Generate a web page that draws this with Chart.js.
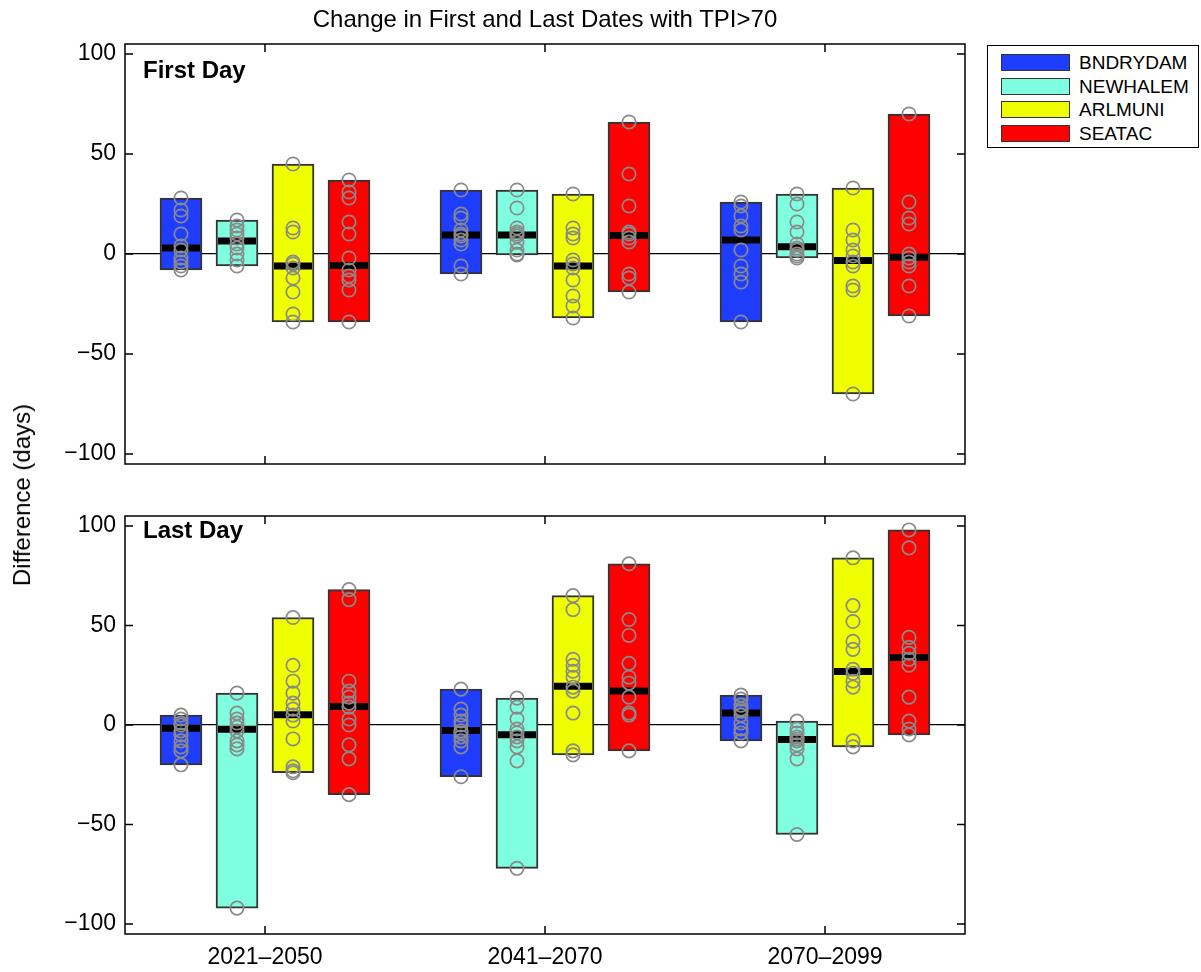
<!DOCTYPE html>
<html><head><meta charset="utf-8">
<script src="https://cdn.jsdelivr.net/npm/chart.js@4.4.1/dist/chart.umd.min.js"></script>
<style>
html,body{margin:0;padding:0;background:#fff;}
body{width:1201px;height:972px;position:relative;overflow:hidden;font-family:"Liberation Sans",Arial,Helvetica,sans-serif;color:#000;}
canvas{position:absolute;left:0;}
#c1{top:0;} #c2{top:490px;}
.t{position:absolute;white-space:nowrap;line-height:24px;}
#title{left:125px;width:840px;text-align:center;top:7px;font-size:24px;}
#ylab{left:22px;top:495px;font-size:24px;transform:translate(-50%,-50%) rotate(-90deg);}
.panel{left:143px;font-size:24px;font-weight:bold;}
#legend{position:absolute;left:987px;top:45px;width:210px;height:101px;border:1.5px solid #000;background:#fff;}
.row{position:absolute;left:13px;height:18px;}
.sw{position:absolute;left:0;top:0;width:67px;height:15px;border:1.5px solid #333;}
.lt{position:absolute;left:78px;top:-2px;font-size:19px;line-height:22px;white-space:nowrap;}
</style></head><body>
<canvas id="c1" width="1201" height="490"></canvas>
<canvas id="c2" width="1201" height="482"></canvas>
<div id="title" class="t">Change in First and Last Dates with TPI&gt;70</div>
<div id="ylab" class="t">Difference (days)</div>
<div class="t panel" style="top:58px">First Day</div>
<div class="t panel" style="top:518px">Last Day</div>
<div id="legend"></div>
<script>
// ---------------- data ----------------
const periods = ['2021\u20132050', '2041\u20132070', '2070\u20132099'];
const stations = ['BNDRYDAM', 'NEWHALEM', 'ARLMUNI', 'SEATAC'];
const yTickValues = [-100, -50, 0, 50, 100];

// First Day: individual model changes (days), one list per period
const firstBNDRYDAM = [[28, 22, 19, 10, 4, 2, -2, -4, -6, -8], [32, 20, 18, 12, 10, 9, 7, 5, -6, -10], [26, 24, 19, 14, 12, 2, -6, -10, -14, -34]];
const firstNEWHALEM = [[17, 14, 12, 10, 8, 5, 3, 0, -3, -6], [32, 23, 13, 11, 10, 9, 6, 2, 0, -0.5], [30, 25, 16, 11, 5, 3, 2, 0, -1, -2]];
const firstARLMUNI = [[45, 13, 11, -4, -5, -7, -12, -19, -30, -34], [30, 13, 10, 8, -3, -5, -7, -13, -21, -26, -32], [33, 12, 7, 2, -1, -4, -6, -16, -18, -70]];
const firstSEATAC = [[37, 31, 28, 16, 10, -2, -8, -11, -13, -18, -34], [66, 40, 24, 11, 10, 8, 6, -10, -12, -19], [70, 26, 18, 15, 0, -2, -4, -6, -16, -31]];
const firstMedianBNDRYDAM = [3, 9.5, 7];
const firstMedianNEWHALEM = [6.5, 9.5, 3.6];
const firstMedianARLMUNI = [-6, -6, -3.2];
const firstMedianSEATAC = [-5.7, 9.2, -1.6];

// Last Day
const lastBNDRYDAM = [[5, 3, 1, 0, -3, -5, -8, -11, -13, -20], [18, 8, 5, 2, 0, -3, -4, -6, -8, -11, -26], [15, 13, 10, 8, 7, 5, 1, -2, -4, -8]];
const lastNEWHALEM = [[16, 6, 3, 1, -1, -3, -8, -10, -12, -92], [13.5, 9, 3, -2, -4, -6, -8, -11, -18, -72], [2, -2, -4, -6, -7, -8, -10, -12, -17, -55]];
const lastARLMUNI = [[54, 30, 22, 16, 11, 8, 5, 2, -7, -21, -23, -24], [65, 58, 33, 30, 27, 24, 19, 17, 6, -13, -15], [84, 60, 52, 42, 38, 28, 26, 22, 19, -8, -11]];
const lastSEATAC = [[68, 63, 22, 17, 14, 11, 9, 3, 0, -10, -17, -35], [81, 53, 45, 31, 24, 21, 14, 6, 5, -13], [98, 89, 44, 39, 36, 33, 30, 14, 2, -2, -5]];
const lastMedianBNDRYDAM = [-1.6, -2.8, 6];
const lastMedianNEWHALEM = [-2.1, -4.9, -7.3];
const lastMedianARLMUNI = [5.2, 19.5, 26.9];
const lastMedianSEATAC = [9.3, 17.1, 33.9];

// ---------------- styles ----------------
const stationColors = ['#1f3dff', '#7fffdf', '#f0ff00', '#ff0000'];
const FONT = '"Liberation Sans", Arial, Helvetica, sans-serif';

// legend (HTML, built from station names/colours)
const legend = document.getElementById('legend');
stations.forEach((s, i) => {
  const row = document.createElement('div');
  row.className = 'row';
  row.style.top = (8 + i * 23.5) + 'px';
  row.innerHTML = '<div class="sw" style="background:' + stationColors[i] + '"></div><div class="lt">' + s + '</div>';
  legend.appendChild(row);
});

const framePlugin = {
  id: 'frame',
  afterDraw(chart) {
    const { ctx, chartArea: a, scales } = chart;
    const y = scales.y, x = scales.x;
    ctx.save();
    ctx.strokeStyle = '#000';
    ctx.lineWidth = 1.5;
    ctx.strokeRect(a.left, a.top, a.right - a.left, a.bottom - a.top);
    ctx.beginPath();
    y.ticks.forEach(t => {
      const p = y.getPixelForValue(t.value);
      ctx.moveTo(a.left, p); ctx.lineTo(a.left + 8, p);
      ctx.moveTo(a.right, p); ctx.lineTo(a.right - 8, p);
    });
    x.ticks.forEach((t, i) => {
      const p = x.getPixelForTick(i);
      ctx.moveTo(p, a.bottom); ctx.lineTo(p, a.bottom - 8);
      ctx.moveTo(p, a.top); ctx.lineTo(p, a.top + 8);
    });
    ctx.stroke();
    ctx.restore();
  }
};

// group layout: 4 slots over 80% of each period's width
const GROUP_FRACTION = 0.8;

function makeChart(id, values, medians, showX, padding, xHeight) {
  const datasets = [];
  const slot = GROUP_FRACTION / stations.length;
  const off = i => (i - (stations.length - 1) / 2) * slot;
  // individual values (drawn on top: first datasets are top-most)
  values.forEach((st, i) => {
    const pts = [];
    st.forEach((vals, j) => vals.forEach(v => pts.push({ x: j + off(i), y: v })));
    datasets.push({
      type: 'line', showLine: false, label: stations[i] + ' models', xAxisID: 'x2', data: pts,
      pointStyle: 'circle', pointRadius: 6.7, pointBorderWidth: 1.7,
      borderColor: '#8a8a8a', pointBorderColor: '#8a8a8a', backgroundColor: 'rgba(0,0,0,0)', pointBackgroundColor: 'rgba(0,0,0,0)'
    });
  });
  // medians
  const medPts = [];
  medians.forEach((m, i) => m.forEach((v, j) => medPts.push({ x: j + off(i), y: v })));
  datasets.push({
    type: 'line', showLine: false, label: 'median', xAxisID: 'x2', data: medPts,
    pointStyle: 'line', pointRadius: 19, pointBorderWidth: 7,
    borderColor: '#000', pointBorderColor: '#000', backgroundColor: '#000', pointBackgroundColor: '#000'
  });
  // bars (min..max range)
  values.forEach((st, i) => {
    datasets.push({
      type: 'bar', label: stations[i], xAxisID: 'x2', grouped: false, barThickness: 42,
      data: st.map((v, j) => ({ x: j + off(i), y: [Math.min(...v), Math.max(...v)] })),
      backgroundColor: stationColors[i], borderColor: '#333', borderWidth: 2, borderSkipped: false
    });
  });

  return new Chart(document.getElementById(id), {
    type: 'bar',
    data: { labels: periods, datasets },
    plugins: [framePlugin],
    options: {
      responsive: false, animation: false, events: [],
      layout: { padding },
      plugins: { legend: { display: false }, tooltip: { enabled: false }, title: { display: false } },
      scales: {
        x: {
          type: 'category', offset: true, position: 'bottom',
          grid: { display: false }, border: { display: false },
          ticks: { display: showX, color: '#000', font: { family: FONT, size: 23 }, padding: 2, maxRotation: 0 },
          afterFit: s => { s.height = xHeight; }
        },
        x2: { type: 'linear', display: false, offset: false, min: -0.5, max: 2.5, position: 'bottom' },
        y: {
          type: 'linear', min: -105, max: 105, position: 'left',
          afterBuildTicks: s => { s.ticks = yTickValues.map(v => ({ value: v })); },
          afterFit: s => { s.width = 125; },
          border: { display: false },
          grid: {
            drawTicks: false, lineWidth: 1.2,
            color: c => (c.tick && c.tick.value === 0) ? '#000' : 'rgba(0,0,0,0)'
          },
          ticks: {
            color: '#000', font: { family: FONT, size: 23 }, padding: 9,
            callback: v => v < 0 ? '\u2212' + Math.abs(v) : String(v)
          }
        }
      }
    }
  });
}

makeChart('c1',
  [firstBNDRYDAM, firstNEWHALEM, firstARLMUNI, firstSEATAC],
  [firstMedianBNDRYDAM, firstMedianNEWHALEM, firstMedianARLMUNI, firstMedianSEATAC],
  false, { top: 44, right: 236, bottom: 16, left: 0 }, 0);

makeChart('c2',
  [lastBNDRYDAM, lastNEWHALEM, lastARLMUNI, lastSEATAC],
  [lastMedianBNDRYDAM, lastMedianNEWHALEM, lastMedianARLMUNI, lastMedianSEATAC],
  true, { top: 16, right: 236, bottom: 0, left: 0 }, 38);
</script>
</body></html>
